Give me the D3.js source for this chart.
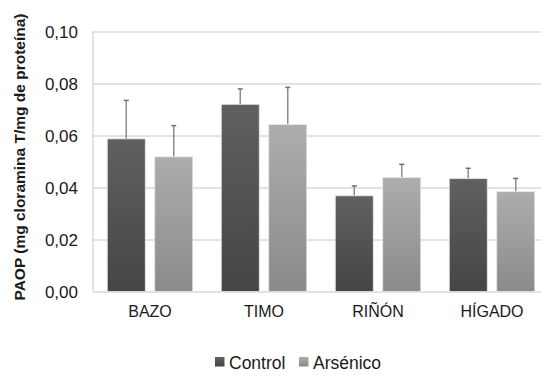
<!DOCTYPE html>
<html>
<head>
<meta charset="utf-8">
<script src="https://cdn.jsdelivr.net/npm/d3@7"></script>
<style>
  body { margin: 0; background: #fff; }
  text { font-family: "Liberation Sans", Arial, sans-serif; fill: #1a1a1a; }
</style>
</head>
<body>
<svg id="chart" width="541" height="376" viewBox="0 0 541 376"></svg>
<script>
// data
const categories = ["BAZO", "TIMO", "RIÑÓN", "HÍGADO"]
const series = ["Control", "Arsénico"]
const control = [0.0587, 0.0720, 0.0368, 0.0434]
const controlErr = [0.0148, 0.0059, 0.0038, 0.0040]
const arsenico = [0.0518, 0.0642, 0.0438, 0.0384]
const arsenicoErr = [0.0120, 0.0143, 0.0051, 0.0051]
const yTicks = [0, 0.02, 0.04, 0.06, 0.08, 0.10]

const svg = d3.select("#chart")
const plot = {left: 93, right: 549, top: 31.5, bottom: 291.5}

const rows = []
categories.forEach((c, i) => {
    rows.push({cat: c, s: "Control", v: control[i], e: controlErr[i]})
    rows.push({cat: c, s: "Arsénico", v: arsenico[i], e: arsenicoErr[i]})
})

// gradients for the bars
const defs = svg.append("defs")
const grads = {Control: ["#606060", "#454545"], "Arsénico": ["#adadad", "#8a8a8a"]}
Object.keys(grads).forEach((k, i) => {
    let g = defs.append("linearGradient").attr("id", "g" + i)
        .attr("x1", 0).attr("y1", 0).attr("x2", 0).attr("y2", 1)
    g.append("stop").attr("offset", "0%").attr("stop-color", grads[k][0])
    g.append("stop").attr("offset", "100%").attr("stop-color", grads[k][1])
})
const fillOf = s => "url(#g" + series.indexOf(s) + ")"

const x = d3.scaleBand().domain(categories).range([plot.left, plot.right])
const xs = d3.scaleBand().domain(series).range([0, x.bandwidth()])
    .paddingInner(0.2).paddingOuter(0.3)
const y = d3.scaleLinear().domain([0, 0.10]).range([plot.bottom, plot.top])

// grid lines
svg.append("g")
    .attr("transform", `translate(${plot.left},0)`)
    .call(d3.axisLeft(y).tickValues(yTicks).tickSize(-(plot.right - plot.left)).tickFormat(""))
    .call(g => g.select(".domain").remove())
    .selectAll("line").attr("stroke", "#d9d9d9").attr("stroke-width", 1.5)

svg.append("line")
    .attr("x1", plot.left).attr("x2", plot.left)
    .attr("y1", plot.top).attr("y2", plot.bottom)
    .attr("stroke", "#d9d9d9").attr("stroke-width", 1.5)

// y tick labels
svg.append("g").selectAll("text")
    .data(yTicks)
    .enter()
    .append("text")
    .attr("x", 78)
    .attr("y", d => y(d) + 6)
    .attr("text-anchor", "end")
    .style("font-size", "17px")
    .text(d => d3.format(".2f")(d).replace(".", ","))

// bars
const groups = svg.append("g").selectAll("g")
    .data(rows)
    .enter()
    .append("g")
    .attr("transform", d => `translate(${x(d.cat) + xs(d.s)},0)`)

groups.append("line")
    .attr("x1", xs.bandwidth() / 2).attr("x2", xs.bandwidth() / 2)
    .attr("y1", d => y(d.v)).attr("y2", d => y(d.v + d.e))
    .attr("stroke", "#8c8c8c").attr("stroke-width", 1.5)
groups.append("line")
    .attr("x1", xs.bandwidth() / 2 - 2.5).attr("x2", xs.bandwidth() / 2 + 2.5)
    .attr("y1", d => y(d.v + d.e)).attr("y2", d => y(d.v + d.e))
    .attr("stroke", "#6e6e6e").attr("stroke-width", 1.5)

groups.append("rect")
    .attr("y", d => y(d.v))
    .attr("width", xs.bandwidth())
    .attr("height", d => plot.bottom - y(d.v))
    .attr("fill", d => fillOf(d.s))
    .attr("stroke", "#e6e6e6").attr("stroke-width", 0.8)

// x labels
svg.append("g").selectAll("text")
    .data(categories)
    .enter()
    .append("text")
    .attr("x", d => x(d) + x.bandwidth() / 2)
    .attr("y", 317)
    .attr("text-anchor", "middle")
    .style("font-size", "16px")
    .text(d => d)

// y axis title
svg.append("text")
    .attr("transform", "translate(25,157) rotate(-90)")
    .attr("text-anchor", "middle")
    .style("font-size", "15.5px")
    .style("font-weight", "bold")
    .text("PAOP (mg cloramina T/mg de proteína)")

// legend
const legendX = [215, 299]
const legend = svg.append("g").selectAll("g")
    .data(series)
    .enter()
    .append("g")
    .attr("transform", (d, i) => `translate(${legendX[i]},357)`)
legend.append("rect").attr("width", 9.5).attr("height", 9.5).attr("fill", d => fillOf(d))
legend.append("text").attr("x", 14).attr("y", 11.5).style("font-size", "17.5px").text(d => d)
</script>
</body>
</html>
